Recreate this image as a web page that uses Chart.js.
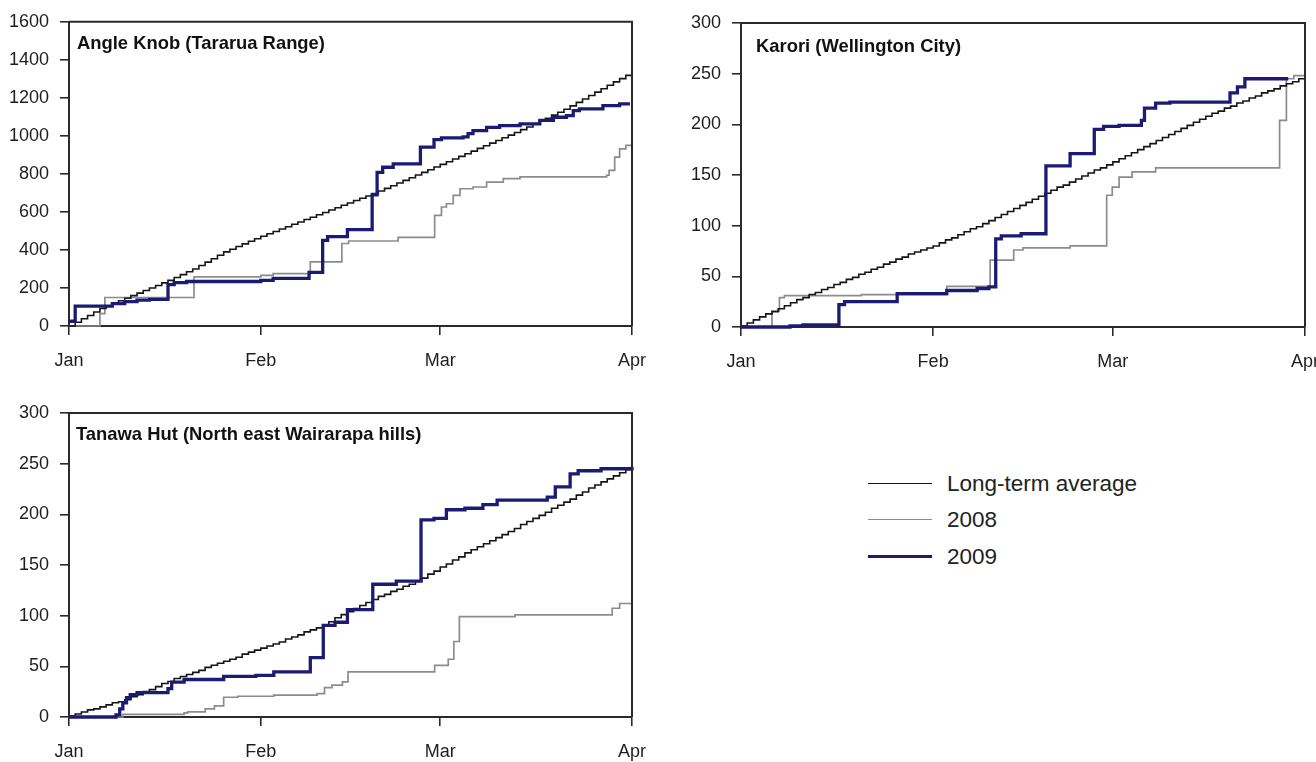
<!DOCTYPE html>
<html>
<head>
<meta charset="utf-8">
<script src="https://cdn.jsdelivr.net/npm/chart.js@4.4.1/dist/chart.umd.min.js"></script>
<style>
  html, body { margin: 0; padding: 0; background: #ffffff; width: 1316px; height: 762px; overflow: hidden;
    font-family: 'Liberation Sans', Arial, Helvetica, sans-serif; }
  canvas { position: absolute; }
  .ptitle { position: absolute; font-weight: bold; font-size: 18.4px; line-height: 18.4px; color: #111; white-space: nowrap; }
  .lg-line { position: absolute; height: 0; }
  .lg-text { position: absolute; font-size: 22.5px; line-height: 22.5px; color: #222; white-space: nowrap; }
</style>
</head>
<body>
<canvas id="c1" width="658" height="380" style="left:0px;top:0px"></canvas>
<canvas id="c2" width="658" height="380" style="left:658px;top:0px"></canvas>
<canvas id="c3" width="658" height="382" style="left:0px;top:380px"></canvas>
<div id="overlay"></div>
<script>
// ---------------- DATA ----------------
const monthLabels = ['Jan', 'Feb', 'Mar', 'Apr'];
const monthStartDays = [0, 31, 60, 91];          // day offsets from 1 Jan (leap year)
const seriesNames = ['Long-term average', '2008', '2009'];
const panelTitles = ['Angle Knob (Tararua Range)', 'Karori (Wellington City)', 'Tanawa Hut (North east Wairarapa hills)'];

const angleKnobTicks = [0, 200, 400, 600, 800, 1000, 1200, 1400, 1600];
const smallTicks = [0, 50, 100, 150, 200, 250, 300];

// Long-term average: cumulative value at each day (day 0 .. 91)
const angleKnobAvg = [0, 20, 38, 55, 74, 92, 106, 119, 133, 146,
  160, 173, 187, 200, 213, 227, 240, 255, 270, 285,
  300, 318, 336, 354, 372, 390, 404, 418, 432, 446,
  459, 472, 485, 497, 510, 522, 535, 547, 560, 572,
  585, 597, 610, 622, 635, 647, 660, 672, 684, 696,
  710, 724, 738, 752, 766, 780, 794, 808, 822, 836,
  850, 864, 878, 892, 906, 920, 934, 948, 962, 976,
  990, 1004, 1018, 1033, 1047, 1062, 1078, 1093, 1109, 1124,
  1140, 1158, 1176, 1194, 1212, 1230, 1248, 1266, 1284, 1301,
  1318, 1336];
// [day, cumulative value] at each change
const angleKnob2008 = [[0, 0], [5, 65], [5.8, 150], [20.2, 258], [31, 266], [33, 275], [39, 337],
  [44.1, 434], [45.2, 447], [53.2, 466], [59.1, 582], [60.2, 626], [61, 643], [62.1, 687],
  [63.2, 722], [65.3, 731], [67.5, 757], [70.2, 775], [72.9, 784], [86.9, 793],
  [87.3, 819], [88.2, 888], [89, 932], [90, 950], [91, 950]];
const angleKnob2009 = [[0, 25], [1, 105], [7, 118], [9, 128], [11, 136], [13, 140], [16, 218],
  [17, 228], [19, 234], [31, 240], [33, 250], [38.8, 282], [41, 450], [41.8, 470], [45, 507],
  [49, 690], [49.8, 808], [50.7, 835], [52.4, 853], [56.8, 941], [59, 980], [60.2, 990],
  [63.7, 995], [64.5, 1012], [65.3, 1028], [67.5, 1045], [69.6, 1054], [72.9, 1063],
  [76.1, 1081], [78.3, 1098], [80.4, 1107], [81.5, 1133], [82.5, 1142], [86.3, 1159],
  [89, 1168], [90.4, 1177]];

const karoriAvg = [1, 4, 7, 10, 13, 15, 18, 21, 24, 27,
  29, 32, 34, 37, 39, 42, 44, 47, 49, 52,
  54, 57, 59, 62, 64, 67, 69, 72, 74, 76,
  78, 80, 83, 86, 88, 91, 94, 97, 99, 102,
  105, 108, 111, 114, 117, 120, 123, 126, 129, 132,
  135, 138, 140, 143, 146, 149, 152, 155, 157, 160,
  163, 166, 169, 172, 175, 178, 181, 184, 187, 190,
  193, 196, 199, 202, 205, 208, 211, 213, 216, 218,
  221, 223, 226, 228, 231, 233, 235, 238, 240, 242,
  245, 247];
const karori2008 = [[0, 0], [5, 16], [6.2, 29], [7, 31], [19.4, 32], [33.2, 40], [40.2, 66], [44, 76],
  [45.5, 78], [53.1, 80], [59, 130], [59.9, 138], [61, 148], [63.1, 153], [66.9, 157],
  [86.9, 204], [88, 245], [89.2, 248], [91, 248]];
const karori2009 = [[0, 0], [7.9, 1], [10, 2], [15.8, 22], [16.7, 25], [25.2, 33], [33.2, 36], [38.1, 38],
  [40, 39.5], [41.1, 87], [42, 90], [45.2, 92], [49.2, 159], [53.1, 171], [57, 195], [58.5, 198],
  [61, 199], [64.6, 204], [65.1, 216], [66.9, 221], [69.2, 222], [78.9, 231], [80.1, 237],
  [81.3, 245], [88.3, 245]];

const tanawaAvg = [1, 3, 5, 7, 8, 10, 12, 14, 15, 17,
  20, 22, 25, 27, 30, 33, 35, 38, 40, 42,
  44, 46, 49, 51, 53, 55, 57, 59, 62, 64,
  66, 68, 70, 72, 74, 77, 79, 81, 84, 86,
  88, 91, 94, 98, 101, 104, 107, 110, 113, 116,
  119, 121, 124, 126, 129, 131, 134, 137, 141, 144,
  148, 151, 155, 158, 162, 165, 168, 171, 174, 177,
  180, 183, 186, 190, 193, 196, 199, 202, 206, 209,
  212, 215, 219, 222, 226, 229, 232, 235, 238, 241,
  244, 247];
const tanawa2008 = [[0, 0], [8.7, 2.5], [18.6, 4], [19.2, 5], [22, 8], [23.5, 11], [25, 19.5], [27.3, 20.5],
  [33.1, 21.5], [40.1, 23], [41.3, 29], [42.5, 31.5], [44.2, 34.6], [45.1, 44.5], [59.1, 51],
  [61.3, 57], [62.2, 74.5], [63.1, 99], [72.1, 100.7], [87.8, 107.3], [89, 112], [91, 112]];
const tanawa2009 = [[0, 0], [7.6, 2], [8.2, 8], [8.7, 14], [9.3, 19], [9.9, 22], [11, 24], [16, 28],
  [16.6, 34.5], [18.6, 37], [25, 40], [30.2, 41], [33.1, 44.5], [39, 58.5], [41.1, 90.5], [43, 93.5],
  [45, 106], [49.1, 131], [52.9, 134], [56.9, 194.5], [59, 196], [61, 204.5], [64, 206],
  [66.9, 209.5], [69.2, 214], [77.3, 217], [78.6, 227], [81, 240], [82.3, 243], [86, 245], [91, 247]];

// ---------------- STYLE / LAYOUT ----------------
const seriesColors = ['#151515', '#8c8c8c', '#1b1b73'];
const seriesWidths = [1.6, 1.7, 3.3];
const seriesOrder = [1, 2, 0];
const axisColor = '#2a2a2a';
const tickFont = { family: "'Liberation Sans', Arial, sans-serif", size: 18 };

const panelLayout = [
  { canvas: 'c1', top: 21, right: 26, yw: 69, xh: 54, titleLeft: 77, titleTop: 33.6 },
  { canvas: 'c2', top: 23, right: 11, yw: 83, xh: 53, titleLeft: 756, titleTop: 36.6 },
  { canvas: 'c3', top: 33, right: 26, yw: 69, xh: 45, titleLeft: 76, titleTop: 425 }
];
const legendLayout = { lineLeft: 868, lineWidth: 64, textLeft: 947, rows: [484, 520, 557] };

// ---------------- CHART BUILDING ----------------
const framePlugin = {
  id: 'frame',
  afterDraw(chart) {
    const a = chart.chartArea, ctx = chart.ctx;
    ctx.save();
    ctx.strokeStyle = axisColor;
    ctx.lineWidth = 2;
    ctx.beginPath();
    ctx.moveTo(a.left, a.top);
    ctx.lineTo(a.right, a.top);
    ctx.lineTo(a.right, a.bottom);
    ctx.stroke();
    ctx.restore();
  }
};

function dailyPoints(vals) { return vals.map((v, i) => ({ x: i, y: v })); }
function pairPoints(pairs) { return pairs.map(p => ({ x: p[0], y: p[1] })); }

function makePanel(layout, avg, s2008, s2009, yTicks) {
  const dataSets = [dailyPoints(avg), pairPoints(s2008), pairPoints(s2009)];
  const datasets = dataSets.map((d, i) => ({
    label: seriesNames[i],
    data: d,
    borderColor: seriesColors[i],
    backgroundColor: seriesColors[i],
    borderWidth: seriesWidths[i],
    stepped: true,
    pointRadius: 0,
    fill: false,
    order: seriesOrder[i],
    clip: false,
    borderJoinStyle: 'miter',
    borderCapStyle: 'butt'
  }));
  const gridOpts = { display: true, drawOnChartArea: false, drawTicks: true, tickLength: 9, color: axisColor, lineWidth: 1.6 };
  const borderOpts = { display: true, color: axisColor, width: 2 };
  return new Chart(document.getElementById(layout.canvas), {
    type: 'line',
    data: { datasets },
    options: {
      responsive: false,
      animation: false,
      devicePixelRatio: 1,
      layout: { padding: { top: layout.top, right: layout.right, left: 0, bottom: 0 } },
      plugins: { legend: { display: false }, tooltip: { enabled: false }, title: { display: false } },
      scales: {
        x: {
          type: 'linear', min: monthStartDays[0], max: monthStartDays[monthStartDays.length - 1],
          afterBuildTicks: s => { s.ticks = monthStartDays.map(v => ({ value: v })); },
          afterFit: s => { s.height = layout.xh; s.paddingLeft = 0; s.paddingRight = 0; },
          ticks: {
            autoSkip: false, maxRotation: 0, padding: 15, color: '#1e1e1e', font: tickFont,
            callback: v => monthLabels[monthStartDays.indexOf(v)]
          },
          grid: gridOpts,
          border: borderOpts
        },
        y: {
          min: yTicks[0], max: yTicks[yTicks.length - 1],
          afterBuildTicks: s => { s.ticks = yTicks.map(v => ({ value: v })); },
          afterFit: s => { s.width = layout.yw; },
          ticks: { padding: 11, color: '#1e1e1e', font: tickFont, callback: v => String(v) },
          grid: gridOpts,
          border: borderOpts
        }
      }
    },
    plugins: [framePlugin]
  });
}

makePanel(panelLayout[0], angleKnobAvg, angleKnob2008, angleKnob2009, angleKnobTicks);
makePanel(panelLayout[1], karoriAvg, karori2008, karori2009, smallTicks);
makePanel(panelLayout[2], tanawaAvg, tanawa2008, tanawa2009, smallTicks);

// ---------------- TITLES & LEGEND (real text) ----------------
const overlay = document.getElementById('overlay');
panelTitles.forEach((t, i) => {
  const d = document.createElement('div');
  d.className = 'ptitle';
  d.textContent = t;
  d.style.left = panelLayout[i].titleLeft + 'px';
  d.style.top = panelLayout[i].titleTop + 'px';
  overlay.appendChild(d);
});
seriesNames.forEach((name, i) => {
  const y = legendLayout.rows[i];
  const ln = document.createElement('div');
  ln.className = 'lg-line';
  ln.style.left = legendLayout.lineLeft + 'px';
  ln.style.width = legendLayout.lineWidth + 'px';
  ln.style.top = (y - seriesWidths[i] / 2) + 'px';
  ln.style.borderTop = seriesWidths[i] + 'px solid ' + seriesColors[i];
  overlay.appendChild(ln);
  const tx = document.createElement('div');
  tx.className = 'lg-text';
  tx.textContent = name;
  tx.style.left = legendLayout.textLeft + 'px';
  tx.style.top = (y - 11) + 'px';
  overlay.appendChild(tx);
});
</script>
</body>
</html>
